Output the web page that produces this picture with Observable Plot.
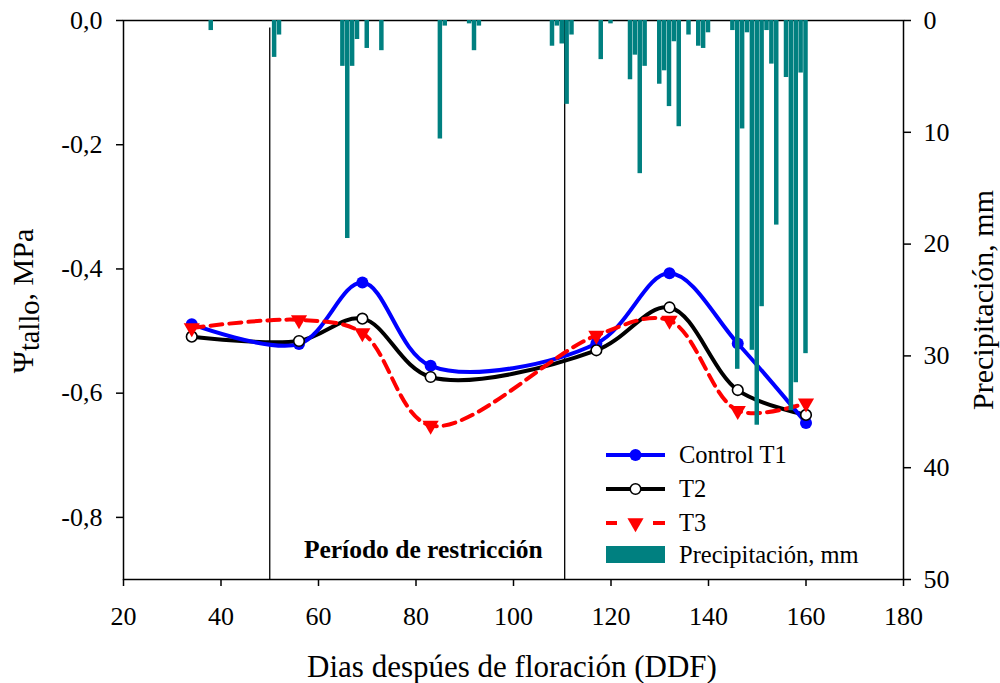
<!DOCTYPE html>
<html><head><meta charset="utf-8">
<script src="https://cdn.jsdelivr.net/npm/d3@7"></script>
<script src="https://cdn.jsdelivr.net/npm/@observablehq/plot@0.6"></script>
<style>
html,body{margin:0;padding:0;background:#fff;}
#wrap{position:relative;width:1000px;height:683px;font-family:"Liberation Serif","Times New Roman",serif;overflow:hidden;background:#fff;}
#wrap svg{position:absolute;left:0;top:0;}
.title{position:absolute;white-space:nowrap;line-height:1;color:#000;font-family:"Liberation Serif","Times New Roman",serif;}
</style></head><body>
<div id="wrap"></div>
<script>
// ---- data ----
const precipDays = [38,51,52,65,66,67,68,70,73,85,86,91,92,93,108,109,110,111,112,118,120,124,125,126,127,130,131,132,133,134,136,138,139,140,145,146,147,148,149,150,151,152,153,154,156,157,158,159,160];
const precipMm   = [0.9,3.3,1.3,4.1,19.5,4.1,1.7,2.5,2.7,10.6,0.5,0.3,2.7,0.5,2.3,0.5,2.1,7.5,1.3,3.5,0.3,5.3,3.1,13.7,4.1,5.7,4.5,7.7,1.9,9.5,1.3,2.3,2.5,1.1,0.9,31.2,9.7,1.1,29.5,36.2,25.6,0.9,3.9,18.3,5.1,34.9,32.4,4.7,29.8];
const sampleDays = [34,56,69,83,117,132,146,160];
const psiT1 = [-0.489,-0.521,-0.422,-0.556,-0.520,-0.407,-0.520,-0.648];
const psiT2 = [-0.509,-0.516,-0.480,-0.574,-0.531,-0.462,-0.595,-0.635];
const psiT3 = [-0.495,-0.482,-0.503,-0.652,-0.507,-0.483,-0.628,-0.616];
const periodX = [50,110.5];
const periodTop = [-0.012,0];
const periodLabel = "Período de restricción";
const periodLabelPos = {x:81.5, y:-0.852};
const xTicks = [20,40,60,80,100,120,140,160,180];
const psiTicks = [0,-0.2,-0.4,-0.6,-0.8];
const precipTicks = [0,10,20,30,40,50];
const legendLabels = ["Control T1","T2","T3","Precipitación, mm"];

// ---- tables ----
const precip = precipDays.map((d,i)=>({day:d, mm:precipMm[i]}));
const rows = (vals)=>sampleDays.map((d,i)=>({day:d, v:vals[i]}));
const t1 = rows(psiT1), t2 = rows(psiT2), t3 = rows(psiT3);
const periods = periodX.map((x,i)=>({x, top:periodTop[i]}));

const FONT = '"Liberation Serif","Times New Roman",serif';
const common = {
  width:1000, height:683,
  marginLeft:123, marginRight:97, marginTop:20, marginBottom:104,
  x:{domain:[20,180]}
};
const fmt = d => d.toFixed(1).replace(".", ",");

const linesPlot = Plot.plot({
  ...common,
  style:{background:"transparent", fontFamily:FONT, color:"#000", overflow:"visible"},
  y:{domain:[-0.9,0]},
  marks:[
    Plot.ruleX(periods,{x:"x", y1:-0.9, y2:"top", stroke:"#000", strokeWidth:1.3}),
    Plot.line(t2,{x:"day", y:"v", stroke:"#000", strokeWidth:4, curve:"catmull-rom"}),
    Plot.line(t1,{x:"day", y:"v", stroke:"#0000ff", strokeWidth:4, curve:"catmull-rom"}),
    Plot.line(t3,{x:"day", y:"v", stroke:"#ff0000", strokeWidth:4, strokeDasharray:"12,7", curve:"catmull-rom"}),
    Plot.dot(t1,{x:"day", y:"v", r:6, fill:"#0000ff", stroke:"none"}),
    Plot.dot(t2,{x:"day", y:"v", r:5.3, fill:"#fff", stroke:"#000", strokeWidth:1.6}),
    Plot.dot(t3,{x:"day", y:"v", r:6, symbol:"triangle", rotate:180, fill:"#ff0000", stroke:"none"}),
    Plot.text([periodLabel],{x:()=>periodLabelPos.x, y:()=>periodLabelPos.y, text:d=>d, fontSize:25.5, fontWeight:"bold", fontFamily:FONT, fill:"#000"}),
    Plot.frame({stroke:"#000", strokeWidth:1.5}),
    Plot.axisX({ticks:xTicks, tickSize:7, tickPadding:20, fontSize:26, fontFamily:FONT, label:null, tickFormat:d=>String(d), strokeWidth:1.5}),
    Plot.axisY({ticks:psiTicks, tickSize:7, tickPadding:14, fontSize:26, fontFamily:FONT, label:null, tickFormat:fmt, strokeWidth:1.5})
  ]
});

const precipPlot = Plot.plot({
  ...common,
  style:{background:"transparent", fontFamily:FONT, color:"#000", overflow:"visible"},
  x:{domain:[20,180], axis:null},
  y:{domain:[0,50], reverse:true},
  marks:[
    Plot.rect(precip,{x1:d=>d.day-0.5, x2:d=>d.day+0.5, y1:0, y2:"mm", fill:"#008080", insetLeft:0.2, insetRight:0.2}),
    Plot.axisY({anchor:"right", ticks:precipTicks, tickSize:7, tickPadding:13, fontSize:26, fontFamily:FONT, label:null, tickFormat:d=>String(d), strokeWidth:1.5})
  ]
});

const wrap = document.getElementById("wrap");
wrap.appendChild(linesPlot);
wrap.appendChild(precipPlot);

// ---- axis titles (HTML text) ----
function addTitle(html, cx, cy, rot, size){
  const el = document.createElement("div");
  el.className = "title";
  el.innerHTML = html;
  el.style.fontSize = size + "px";
  el.style.left = cx + "px";
  el.style.top = cy + "px";
  el.style.transform = `translate(-50%,-50%) rotate(${rot}deg)`;
  wrap.appendChild(el);
}
addTitle('Ψ<span style="position:relative;top:0.22em;font-size:0.95em">tallo</span>, MPa', 23, 301, -90, 30);
addTitle('Precipitación, mm', 983, 300, -90, 30);
addTitle('Dias despúes de floración (DDF)', 512, 666, 0, 31);

// ---- legend ----
const lg = d3.create("svg").attr("width",1000).attr("height",683).style("pointer-events","none");
const L = {x0:606, x1:665, xm:635.5, tx:679, y0:455, dy:34};
const g = lg.append("g");
// Control T1
let y = L.y0;
g.append("line").attr("x1",L.x0).attr("x2",L.x1).attr("y1",y).attr("y2",y).attr("stroke","#0000ff").attr("stroke-width",4);
g.append("circle").attr("cx",L.xm).attr("cy",y).attr("r",6).attr("fill","#0000ff");
// T2
y = L.y0 + L.dy;
g.append("line").attr("x1",L.x0).attr("x2",L.x1).attr("y1",y).attr("y2",y).attr("stroke","#000").attr("stroke-width",4);
g.append("circle").attr("cx",L.xm).attr("cy",y).attr("r",5.3).attr("fill","#fff").attr("stroke","#000").attr("stroke-width",1.6);
// T3
y = L.y0 + 2*L.dy;
g.append("line").attr("x1",L.x0).attr("x2",L.x0+11).attr("y1",y).attr("y2",y).attr("stroke","#ff0000").attr("stroke-width",4);
g.append("line").attr("x1",L.x1-12).attr("x2",L.x1).attr("y1",y).attr("y2",y).attr("stroke","#ff0000").attr("stroke-width",4);
g.append("path").attr("transform",`translate(${L.xm},${y}) rotate(180)`).attr("d",d3.symbol(d3.symbolTriangle, 6*6*Math.PI)()).attr("fill","#ff0000");
// Precip
y = L.y0 + 3*L.dy;
g.append("rect").attr("x",L.x0).attr("y",546).attr("width",L.x1-L.x0).attr("height",17).attr("fill","#008080");
legendLabels.forEach((t,i)=>{
  g.append("text").attr("x",L.tx).attr("y",(i<3? L.y0+i*L.dy : 554.5)).attr("dy","0.34em")
   .attr("font-family",FONT).attr("font-size",24.5).attr("fill","#000").text(t);
});
wrap.appendChild(lg.node());
</script>
</body></html>
